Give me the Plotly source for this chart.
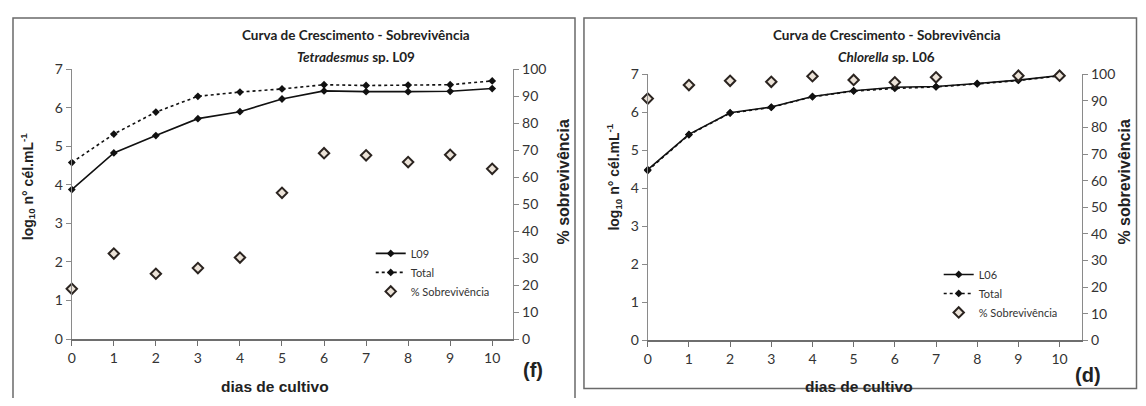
import plotly.graph_objects as go

# Page is rendered with the default 8px body margin, so the figure is sized
# to fit inside the window and reference page coordinates are shifted by 8px.
PAGE_OFF = 8
W, H = 1146 - 2 * PAGE_OFF, 406 - 2 * PAGE_OFF

days = list(range(11))

# Panel (f): Tetradesmus sp. L09
l09 = [3.88, 4.83, 5.28, 5.72, 5.90, 6.23, 6.44, 6.42, 6.42, 6.43, 6.50]
total_f = [4.58, 5.32, 5.89, 6.30, 6.41, 6.49, 6.60, 6.58, 6.59, 6.60, 6.70]
surv_f = [18.6, 31.7, 24.2, 26.3, 30.2, 54.2, 68.9, 68.1, 65.6, 68.3, 63.1]

# Panel (d): Chlorella sp. L06
l06 = [4.49, 5.42, 5.99, 6.14, 6.42, 6.57, 6.66, 6.68, 6.76, 6.85, 6.97]
total_d = [4.47, 5.41, 5.98, 6.13, 6.41, 6.56, 6.63, 6.67, 6.75, 6.84, 6.96]
surv_d = [90.9, 96.0, 97.6, 97.2, 99.3, 97.9, 97.0, 98.9, None, 99.5, 99.5]

y_ticks = list(range(8))
pct_ticks = list(range(0, 101, 10))

FONT = "Lato, Roboto, sans-serif"
BOLD = "Liberation Sans, Arial, sans-serif"

def px(x):
    return (x - PAGE_OFF) / W

def py(y):
    return 1 - (y - PAGE_OFF) / H

fig = go.Figure()

line_marker = dict(symbol="diamond", size=6, color="#111111")
surv_marker = dict(symbol="diamond", size=8, color="#ece3d8",
                   line=dict(color="#2b2420", width=2))

# Left panel traces
fig.add_trace(go.Scatter(x=days, y=l09, name="L09", mode="lines+markers",
                         line=dict(color="#111111", width=1.6), marker=line_marker,
                         xaxis="x", yaxis="y", legend="legend", cliponaxis=False))
fig.add_trace(go.Scatter(x=days, y=total_f, name="Total", mode="lines+markers",
                         line=dict(color="#111111", width=1.6, dash="dot"), marker=line_marker,
                         xaxis="x", yaxis="y", legend="legend", cliponaxis=False))
fig.add_trace(go.Scatter(x=days, y=surv_f, name="% Sobrevivência", mode="markers",
                         marker=surv_marker, xaxis="x", yaxis="y2", legend="legend",
                         cliponaxis=False))

# Right panel traces
fig.add_trace(go.Scatter(x=days, y=l06, name="L06", mode="lines+markers",
                         line=dict(color="#111111", width=1.6), marker=line_marker,
                         xaxis="x2", yaxis="y3", legend="legend2", cliponaxis=False))
fig.add_trace(go.Scatter(x=days, y=total_d, name="Total", mode="lines+markers",
                         line=dict(color="#111111", width=1.6, dash="dot"), marker=line_marker,
                         xaxis="x2", yaxis="y3", legend="legend2", cliponaxis=False))
fig.add_trace(go.Scatter(x=days, y=surv_d, name="% Sobrevivência", mode="markers",
                         marker=surv_marker, xaxis="x2", yaxis="y4", legend="legend2",
                         cliponaxis=False))

tickfont = dict(family=FONT, size=14, color="#333333")

def xax(domain, anchor, rng):
    return dict(domain=domain, anchor=anchor, range=rng, tickvals=days,
                showgrid=False, zeroline=False, showline=True, linecolor="#6e6e6e",
                linewidth=2, ticks="outside", ticklen=5, tickcolor="#6e6e6e",
                tickfont=tickfont, fixedrange=True)

def yax(domain, anchor, rng, vals, side="left", overlay=None):
    d = dict(domain=domain, anchor=anchor, range=rng, tickvals=vals,
             showgrid=False, zeroline=False, showline=True, linecolor="#8a8a8a",
             linewidth=1, ticks="outside", ticklen=5, tickcolor="#8a8a8a",
             tickfont=tickfont, side=side, fixedrange=True)
    if overlay:
        d["overlaying"] = overlay
    return d

lx = [px(68), px(511)]
ly = [py(344.7), py(62.7)]
rx = [px(646), px(1082)]
ry = [py(346), py(68)]

fig.update_layout(
    width=W, height=H,
    margin=dict(l=0, r=0, t=0, b=0),
    paper_bgcolor="white", plot_bgcolor="white",
    xaxis=xax(lx, "y", [0, 10.5]),
    yaxis=yax(ly, "x", [0, 7], y_ticks),
    yaxis2=yax(ly, "x", [0, 100], pct_ticks, side="right", overlay="y"),
    xaxis2=xax(rx, "y3", [0, 10.55]),
    yaxis3=yax(ry, "x2", [0, 7], y_ticks),
    yaxis4=yax(ry, "x2", [0, 100], pct_ticks, side="right", overlay="y3"),
    legend=dict(x=px(368), y=py(240), xanchor="left", yanchor="top",
                bgcolor="rgba(0,0,0,0)", font=dict(family=FONT, size=11, color="#333"),
                tracegroupgap=0, itemwidth=30),
    legend2=dict(x=px(938), y=py(262), xanchor="left", yanchor="top",
                 bgcolor="rgba(0,0,0,0)", font=dict(family=FONT, size=11, color="#333"),
                 tracegroupgap=0, itemwidth=30),
    showlegend=True,
)

ann = []
def A(x, y, text, size, family=BOLD, angle=0, color="#222222"):
    ann.append(dict(x=px(x), y=py(y), xref="paper", yref="paper", text=text,
                    showarrow=False, textangle=angle, xanchor="center", yanchor="middle",
                    font=dict(family=family, size=size, color=color)))

A(353, 27, "<b>Curva de Crescimento - Sobrevivência</b>", 13.5, FONT)
A(353, 50, "<b><i>Tetradesmus</i> sp. L09</b>", 13.5, FONT)
A(886, 27, "<b>Curva de Crescimento - Sobrevivência</b>", 13.5, FONT)
A(886, 50, "<b><i>Chlorella</i> sp. L06</b>", 13.5, FONT)

ylab = "<b>log<sub>10</sub> n° cél.mL<sup>-1</sup></b>"
A(24, 185, ylab, 14, angle=-90)
A(612, 175, ylab, 14, angle=-90)
A(561, 180, "<b>% sobrevivência</b>", 16, angle=-90)
A(1124, 180, "<b>% sobrevivência</b>", 16, angle=-90)

A(272, 394, "<b>dias de cultivo</b>", 15.5)
A(858, 394, "<b>dias de cultivo</b>", 15.5)
A(531, 377, "<b>(f)</b>", 20)
A(1088, 382, "<b>(d)</b>", 20)

fig.update_layout(annotations=ann)

fig.add_shape(type="rect", xref="paper", yref="paper",
              x0=px(9), x1=px(573), y0=py(420), y1=py(9),
              line=dict(color="#6a6a6a", width=1.5))
fig.add_shape(type="rect", xref="paper", yref="paper",
              x0=px(582), x1=px(1136.5), y0=py(396.5), y1=py(9),
              line=dict(color="#6a6a6a", width=1.5))

fig.write_html("out.html")
